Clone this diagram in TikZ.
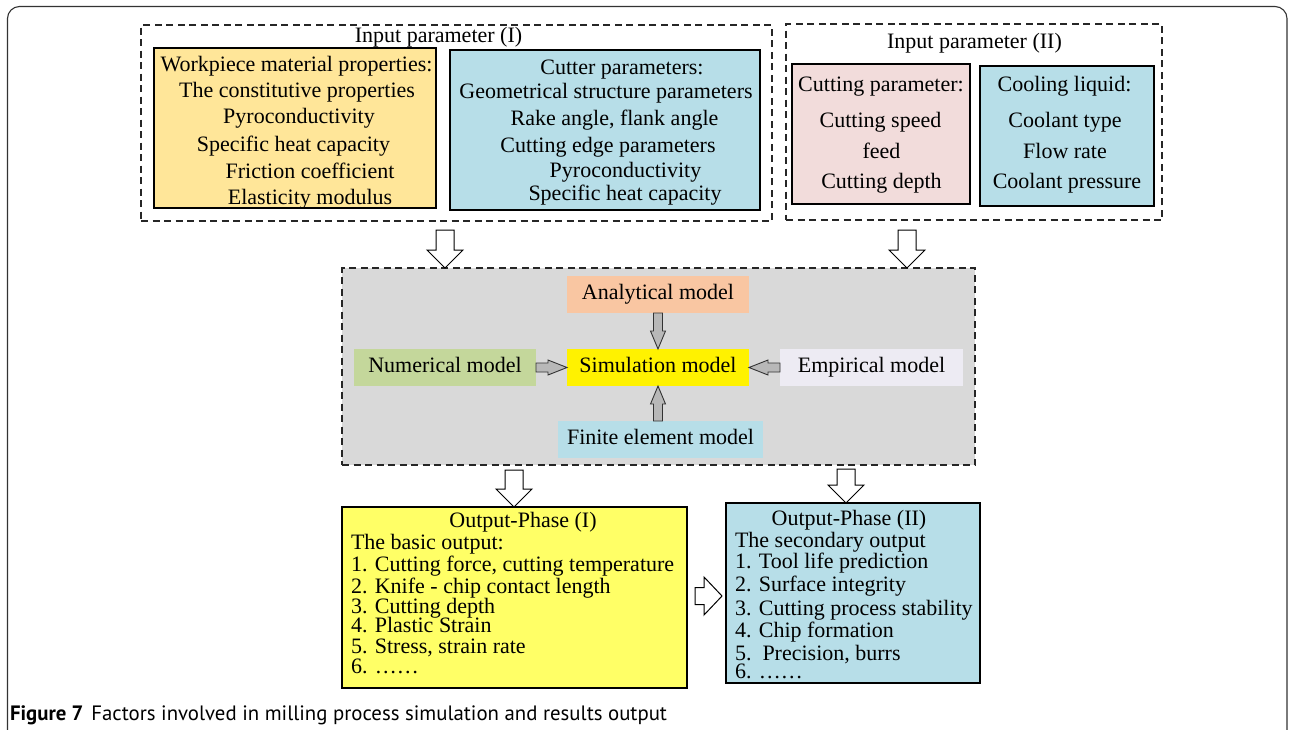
\documentclass[tikz,border=0pt]{standalone}
\usepackage{fontspec}
\setmainfont{Liberation Serif}
\newfontfamily\capfont{PT Sans}
\usetikzlibrary{calc}

\definecolor{wpyellow}{HTML}{FFE699}
\definecolor{lightblue}{HTML}{B7DEE8}
\definecolor{lightpink}{HTML}{F2DCDB}
\definecolor{panelgrey}{HTML}{D9D9D9}
\definecolor{peach}{HTML}{F9C6A2}
\definecolor{olivegreen}{HTML}{C4D79B}
\definecolor{lavender}{HTML}{EDEBF3}
\definecolor{outyellow}{HTML}{FFFF66}

% block arrow from tail #2 to tip #3:
% #4 half shaft width, #5 half head width, #6 head length
\newcommand{\blockarrow}[6]{%
  \path ($(#3)!#6!(#2)$) coordinate (headbase);
  \draw[#1] ($(#2)!#4!90:(#3)$) -- ($(headbase)!#4!90:(#3)$)
    -- ($(headbase)!#5!90:(#3)$) -- (#3)
    -- ($(headbase)!#5!-90:(#3)$) -- ($(headbase)!#4!-90:(#3)$)
    -- ($(#2)!#4!-90:(#3)$) -- cycle;
}

\begin{document}
\begin{tikzpicture}[x=1pt,y=-1pt,
  every node/.style={inner sep=0pt, outer sep=0pt},
  txt/.style={anchor=base, font=\fontsize{22}{26}\selectfont},
  txtl/.style={anchor=base west, font=\fontsize{22}{26}\selectfont},
  solidbox/.style={rectangle, draw=black, line width=1.3pt},
  dashbox/.style={rectangle, draw=black!85, line width=1.4pt, dash pattern=on 7pt off 4.5pt},
  modelbox/.style={rectangle, minimum height=37pt, font=\fontsize{22}{26}\selectfont,
    text height=15pt, text depth=4.5pt},
  hollow/.style={draw=black, fill=white, line width=1pt, line join=miter},
  greyarrow/.style={draw=black!80, fill=black!28, line width=0.9pt, line join=miter},
]
\useasboundingbox (0,0) rectangle (1293,729);

% outer frame
\begin{scope}
  \clip (0,0) rectangle (1293,729);
  \draw[rounded corners=12pt, line width=1.1pt, draw=black!80] (7.5,6.5) rectangle (1287,742);
\end{scope}

% ---------- input parameter (I) ----------
\node[dashbox, minimum width=631pt, minimum height=196pt] (inI) at (456.5,123) {};
\node[txt] (inIt) at (438.5,42) {Input parameter (I)};

\node[solidbox, fill=wpyellow, minimum width=282pt, minimum height=160pt] (wp) at (295,128) {};
\node[txt] (wp1) at (296.5,71) {Workpiece material properties:};
\node[txt] (wp2) at (297,97) {The constitutive properties};
\node[txt] (wp3) at (299,123) {Pyroconductivity};
\node[txt] (wp4) at (293.5,151) {Specific heat capacity};
\node[txt] (wp5) at (310,178) {Friction coefficient};
\node[txt] (wp6) at (310,204) {Elasticity modulus};

\node[solidbox, fill=lightblue, minimum width=310pt, minimum height=160pt] (cut) at (605,130) {};
\node[txt] (cut1) at (622,74) {Cutter parameters:};
\node[txt] (cut2) at (606,98) {Geometrical structure parameters};
\node[txt] (cut3) at (614.5,125) {Rake angle, flank angle};
\node[txt] (cut4) at (608,152) {Cutting edge parameters};
\node[txt] (cut5) at (625.5,177) {Pyroconductivity};
\node[txt] (cut6) at (625,200) {Specific heat capacity};

% ---------- input parameter (II) ----------
\node[dashbox, minimum width=376pt, minimum height=196pt] (inII) at (974,122) {};
\node[txt] (inIIt) at (974.5,48) {Input parameter (II)};

\node[solidbox, fill=lightpink, minimum width=178pt, minimum height=140pt] (cp) at (881,134) {};
\node[txt] (cp1) at (881,91) {Cutting parameter:};
\node[txt] (cp2) at (880.5,127) {Cutting speed};
\node[txt] (cp3) at (881.5,158) {feed};
\node[txt] (cp4) at (881.5,188) {Cutting depth};

\node[solidbox, fill=lightblue, minimum width=174pt, minimum height=140pt] (cool) at (1067,136) {};
\node[txt] (cool1) at (1064.5,91) {Cooling liquid:};
\node[txt] (cool2) at (1065,127) {Coolant type};
\node[txt] (cool3) at (1065,158) {Flow rate};
\node[txt] (cool4) at (1067,188) {Coolant pressure};

% ---------- model panel ----------
\node[dashbox, fill=panelgrey, minimum width=633pt, minimum height=197pt] (grey) at (658.5,366.5) {};
\node[modelbox, fill=peach, minimum width=182pt] (ana) at (658,294.5) {Analytical model};
\node[modelbox, fill=yellow, minimum width=182pt] (sim) at (658,367.5) {Simulation model};
\node[modelbox, fill=olivegreen, minimum width=182pt] (num) at (445,367.5) {Numerical model};
\node[modelbox, fill=lavender, minimum width=183pt] (emp) at (871.5,367.5) {Empirical model};
\node[modelbox, fill=lightblue, minimum width=205pt] (fin) at (660.5,439.5) {Finite element model};

\coordinate (finsrc) at (sim.south |- fin.north);
\blockarrow{greyarrow}{ana.south}{sim.north}{4.5pt}{7.5pt}{18pt}
\blockarrow{greyarrow}{finsrc}{sim.south}{4.5pt}{7.5pt}{18pt}
\blockarrow{greyarrow}{num.east}{sim.west}{4.5pt}{7.5pt}{19pt}
\blockarrow{greyarrow}{emp.west}{sim.east}{4.5pt}{7.5pt}{19pt}

% ---------- outputs ----------
\node[solidbox, fill=outyellow, minimum width=345pt, minimum height=181pt] (out1) at (514.5,597.5) {};
\node[txt] (o1t) at (523,527) {Output-Phase (I)};
\node[txtl] (o11) at (351,549) {The basic output:};
\node[txtl] (o12) at (351,571) {1. Cutting force, cutting temperature};
\node[txtl] (o13) at (351,593) {2. Knife - chip contact length};
\node[txtl] (o14) at (351,613) {3. Cutting depth};
\node[txtl] (o15) at (351,632) {4. Plastic Strain};
\node[txtl] (o16) at (351,653) {5. Stress, strain rate};
\node[txtl] (o17) at (351,673) {6. ……};

\node[solidbox, fill=lightblue, minimum width=254pt, minimum height=180pt] (out2) at (853,593) {};
\node[txt] (o2t) at (849,525) {Output-Phase (II)};
\node[txtl] (o21) at (735,547) {The secondary output};
\node[txtl] (o22) at (735,568) {1. Tool life prediction};
\node[txtl] (o23) at (735,591) {2. Surface integrity};
\node[txtl] (o24) at (735,615) {3. Cutting process stability};
\node[txtl] (o25) at (735,637) {4. Chip formation};
\node[txtl] (o26) at (735,660) {5.\ \ Precision, burrs};
\node[txtl] (o27) at (735,678) {6. ……};

% ---------- hollow flow arrows ----------
\coordinate (xa) at (445,0);
\coordinate (xb) at (907,0);
\coordinate (xc) at (514,0);
\coordinate (xd) at (846,0);
\coordinate (ymid) at (0,596);
\coordinate (a1t) at ($(inI.south -| xa)+(0,9)$);
\coordinate (a1h) at (grey.north -| xa);
\coordinate (a2t) at ($(inII.south -| xb)+(0,10)$);
\coordinate (a2h) at (grey.north -| xb);
\coordinate (a3t) at ($(grey.south -| xc)+(0,5)$);
\coordinate (a3h) at (out1.north -| xc);
\coordinate (a4t) at ($(grey.south -| xd)+(0,4)$);
\coordinate (a4h) at (out2.north -| xd);
\coordinate (a5t) at ($(out1.east |- ymid)+(8,0)$);
\coordinate (a5h) at ($(out2.west |- ymid)+(-4,0)$);
\blockarrow{hollow}{a1t}{a1h}{9pt}{18pt}{18pt}
\blockarrow{hollow}{a2t}{a2h}{9pt}{18pt}{18pt}
\blockarrow{hollow}{a3t}{a3h}{9pt}{18pt}{18pt}
\blockarrow{hollow}{a4t}{a4h}{9pt}{18pt}{18pt}
\blockarrow{hollow}{a5t}{a5h}{8.5pt}{19pt}{18pt}

% ---------- caption ----------
\node[anchor=base west, font=\capfont\fontsize{20.8}{24}\selectfont] (cap) at (10,720)
  {\textbf{Figure 7}\hspace{8pt}Factors involved in milling process simulation and results output};

\end{tikzpicture}
\end{document}
